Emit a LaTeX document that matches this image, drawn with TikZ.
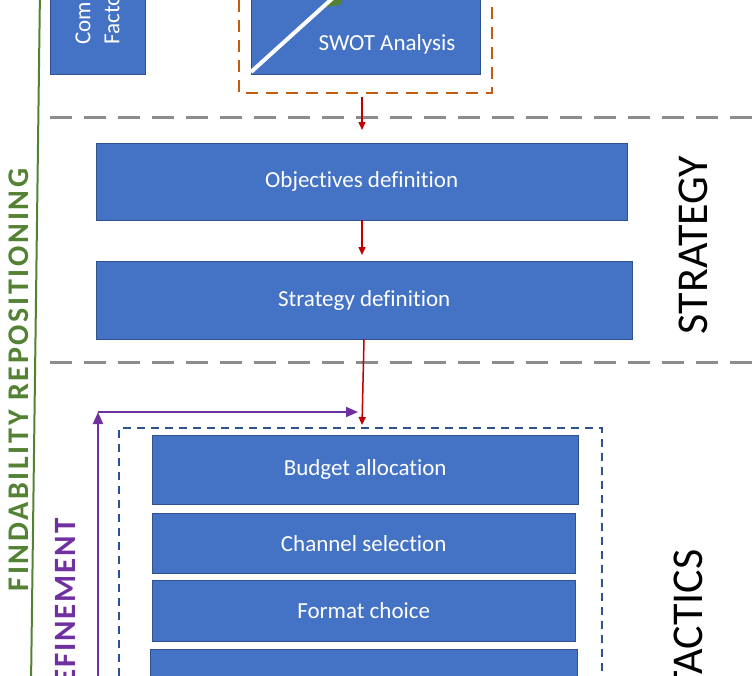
\documentclass[tikz,border=0pt]{standalone}
\usepackage{fontspec}
\setmainfont[Ligatures=NoCommon]{Carlito}
\usetikzlibrary{arrows.meta}
\definecolor{boxblue}{HTML}{4472C4}
\definecolor{boxedge}{HTML}{2F528F}
\definecolor{swotorange}{HTML}{C55A11}
\definecolor{findgreen}{HTML}{548235}
\definecolor{refpurple}{HTML}{7030A0}
\definecolor{arrowred}{HTML}{C00000}
\tikzset{
  stepbox/.style={draw=boxedge,fill=boxblue,text=white,inner sep=0pt,font=\fontsize{23}{27}\selectfont},
  redarrow/.style={draw=arrowred,line width=1.5pt,-{Triangle[length=8pt,width=7pt]}},
  phaseline/.style={draw=gray!90,line width=3pt,dash pattern=on 22pt off 12pt},
  phaselabel/.style={rotate=90,font=\fontsize{44}{52}\selectfont}
}
\begin{document}
\begin{tikzpicture}[x=1pt,y=-1pt]
\useasboundingbox (0,0) rectangle (754,675);
\clip (0,0) rectangle (754,675);
% analysis
\draw[findgreen,line width=2pt] (40,-10) -- (31,685);
\node[stepbox,minimum width=95pt,minimum height=120pt,anchor=south west] (factors) at (50,74) {};
\node[rotate=90,anchor=west,text=white,align=left,font=\fontsize{23}{29}\selectfont] (factorstext) at (97,48) {Competitive\\Factors};
\draw[swotorange,line width=2pt,dash pattern=on 12pt off 8pt] (239,-20) -- (239,93) -- (492,93) -- (492,-20);
\node[stepbox,minimum width=229pt,minimum height=120pt,anchor=south west] (swot) at (251,74) {};
\fill[findgreen] (318,8) -- (345,-5) -- (340,5) -- cycle;
\draw[white,line width=4pt] (251,72) -- (335,-4);
\node[text=white,font=\fontsize{23}{27}\selectfont] (swottext) at (387,44) {SWOT Analysis};
\coordinate (swotout) at (362,97);
% strategy
\draw[phaseline] (50,117) -- (754,117);
\draw[phaseline] (50,362) -- (754,362);
\node[stepbox,minimum width=531pt,minimum height=77pt,anchor=north west] (objectives) at (96,143) {Objectives definition};
\node[stepbox,minimum width=536pt,minimum height=78pt,anchor=north west] (strategy) at (96,261) {Strategy definition};
\node[phaselabel] (strategylabel) at (693,245) {STRATEGY};
\draw[redarrow] (swotout) -- (362,130);
\draw[redarrow] (objectives.south -| 362,0) -- (362,255);
% tactics
\draw[boxedge,line width=1.5pt,dash pattern=on 8pt off 6pt] (119,690) -- (119,428) -- (602,428) -- (602,690);
\node[stepbox,minimum width=426pt,minimum height=69pt,anchor=north west] (budget) at (152,435) {Budget allocation};
\node[stepbox,minimum width=423pt,minimum height=60pt,anchor=north west] (channel) at (152,513) {Channel selection};
\node[stepbox,minimum width=423pt,minimum height=61pt,anchor=north west] (format) at (152,580) {Format choice};
\node[stepbox,minimum width=427pt,minimum height=60pt,anchor=north west] (next) at (150,649) {};
\draw[redarrow] (strategy.south -| 364,0) -- (362,425);
\coordinate (loopstart) at (98,690);
\coordinate (loopcorner) at (98,412);
\draw[refpurple,line width=1.8pt,-{Triangle[length=12pt,width=10pt]}] (loopstart) -- (loopcorner);
\draw[refpurple,line width=1.8pt,-{Triangle[length=12pt,width=10pt]}] (loopcorner) -- (358,412);
\node[phaselabel,anchor=east] (tacticslabel) at (688,546) {TACTICS};
\node[rotate=90,anchor=east,text=refpurple,font=\fontsize{31}{34}\selectfont\bfseries\addfontfeatures{LetterSpace=6}] (refinement) at (65,515) {REFINEMENT};
\node[rotate=90,text=findgreen,font=\fontsize{30}{34}\selectfont\bfseries\addfontfeatures{LetterSpace=9}] (findability) at (19,380) {FINDABILITY REPOSITIONING};
\end{tikzpicture}
\end{document}
